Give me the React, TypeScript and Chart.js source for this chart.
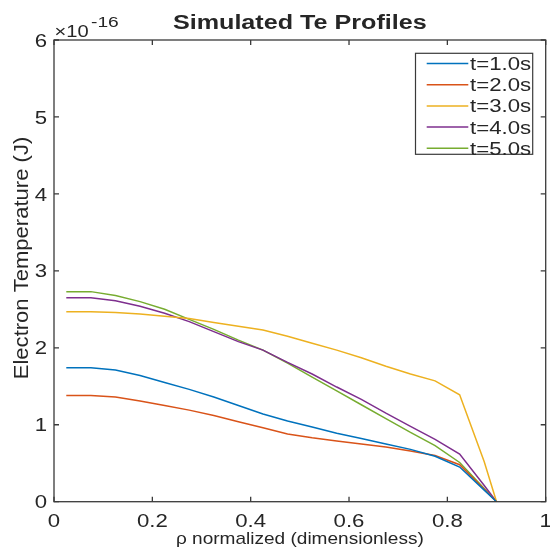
import React, { useEffect, useRef } from "react";
import { Chart, registerables } from "chart.js";

Chart.register(...registerables);

// ---- data (Te in units of 1e-16 J) ----
const rho = [0.025, 0.075, 0.125, 0.175, 0.225, 0.275, 0.325, 0.375, 0.425, 0.475, 0.525, 0.575, 0.625, 0.675, 0.725, 0.775, 0.825, 0.875, 0.9];
const teT1 = [1.74, 1.74, 1.71, 1.64, 1.55, 1.46, 1.36, 1.25, 1.14, 1.05, 0.97, 0.89, 0.82, 0.75, 0.68, 0.59, 0.45, 0.15, 0];
const teT2 = [1.38, 1.38, 1.36, 1.31, 1.25, 1.19, 1.12, 1.04, 0.96, 0.88, 0.83, 0.79, 0.75, 0.71, 0.66, 0.6, 0.48, 0.16, 0];
const teT3 = [2.47, 2.47, 2.46, 2.44, 2.41, 2.38, 2.33, 2.28, 2.23, 2.15, 2.06, 1.97, 1.87, 1.76, 1.66, 1.57, 1.39, 0.52, 0];
const teT4 = [2.65, 2.65, 2.61, 2.54, 2.45, 2.34, 2.21, 2.08, 1.97, 1.81, 1.66, 1.49, 1.33, 1.15, 0.98, 0.81, 0.62, 0.21, 0];
const teT5 = [2.73, 2.73, 2.68, 2.6, 2.5, 2.37, 2.24, 2.1, 1.97, 1.8, 1.62, 1.44, 1.26, 1.08, 0.9, 0.73, 0.51, 0.17, 0];

const seriesLabels = ["t=1.0s", "t=2.0s", "t=3.0s", "t=4.0s", "t=5.0s"];
const seriesValues = [teT1, teT2, teT3, teT4, teT5];
const seriesColors = ["#0072BD", "#D95319", "#EDB120", "#7E2F8E", "#77AC30"];

const xTicks = [0, 0.2, 0.4, 0.6, 0.8, 1];
const xTickLabels = ["0", "0.2", "0.4", "0.6", "0.8", "1"];
const yTicks = [0, 1, 2, 3, 4, 5, 6];
const yTickLabels = ["0", "1", "2", "3", "4", "5", "6"];
const exponentBase = "×10";
const exponentPower = "-16";

const titleText = "Simulated Te Profiles";
const xTitle = "ρ normalized (dimensionless)";
const yTitle = "Electron Temperature (J)";

const FONT = "'Liberation Sans', Arial, Helvetica, sans-serif";
const TEXT_COLOR = "#262626";
const AXIS_COLOR = "#3a3a3a";

function drawText(
  ctx: CanvasRenderingContext2D,
  text: string,
  x: number,
  y: number,
  font: string,
  sx: number,
  align: CanvasTextAlign,
  rotate = 0
) {
  ctx.save();
  ctx.translate(x, y);
  if (rotate) ctx.rotate(rotate);
  ctx.scale(sx, 1);
  ctx.font = font;
  ctx.fillStyle = TEXT_COLOR;
  ctx.textAlign = align;
  ctx.textBaseline = "alphabetic";
  ctx.fillText(text, 0, 0);
  ctx.restore();
}

const decorPlugin = {
  id: "matlabDecor",
  afterDatasetsDraw(chart: any) {
    const { ctx, chartArea, scales } = chart;
    const { left, right, top, bottom } = chartArea;
    const xs = scales.x;
    const ys = scales.y;
    ctx.save();

    // axes box + inward ticks
    ctx.strokeStyle = AXIS_COLOR;
    ctx.lineWidth = 1.3;
    ctx.strokeRect(left, top, right - left, bottom - top);
    const tl = 5;
    ctx.beginPath();
    xTicks.forEach((v) => {
      const px = xs.getPixelForValue(v);
      ctx.moveTo(px, bottom);
      ctx.lineTo(px, bottom - tl);
      ctx.moveTo(px, top);
      ctx.lineTo(px, top + tl);
    });
    yTicks.forEach((v) => {
      const py = ys.getPixelForValue(v);
      ctx.moveTo(left, py);
      ctx.lineTo(left + tl, py);
      ctx.moveTo(right, py);
      ctx.lineTo(right - tl, py);
    });
    ctx.stroke();

    // tick labels
    const tickFont = `18.5px ${FONT}`;
    xTicks.forEach((v, i) => {
      drawText(ctx, xTickLabels[i], xs.getPixelForValue(v), bottom + 24.8, tickFont, 1.2, "center");
    });
    yTicks.forEach((v, i) => {
      drawText(ctx, yTickLabels[i], left - 7, ys.getPixelForValue(v) + 6.6, tickFont, 1.2, "right");
    });

    // exponent
    drawText(ctx, exponentBase, left + 0.5, 36.5, `16.5px ${FONT}`, 1.22, "left");
    drawText(ctx, exponentPower, left + 37, 27, `15.5px ${FONT}`, 1.24, "left");

    // title
    drawText(ctx, titleText, (left + right) / 2, 28.5, `bold 19.5px ${FONT}`, 1.29, "center");

    // axis titles
    drawText(ctx, xTitle, (left + right) / 2, 543.5, `17px ${FONT}`, 1.12, "center");
    drawText(ctx, yTitle, 27.5, 258, `19.5px ${FONT}`, 1.13, "center", -Math.PI / 2);

    // legend
    const bx0 = 415.5, bx1 = 532.7, by0 = 53.3, by1 = 154.3;
    ctx.fillStyle = "#ffffff";
    ctx.fillRect(bx0, by0, bx1 - bx0, by1 - by0);
    ctx.strokeStyle = AXIS_COLOR;
    ctx.lineWidth = 1.2;
    ctx.strokeRect(bx0, by0, bx1 - bx0, by1 - by0);
    chart.data.datasets.forEach((ds: any, i: number) => {
      const cy = 63.5 + i * 21.2;
      ctx.strokeStyle = ds.borderColor;
      ctx.lineWidth = 1.5;
      ctx.beginPath();
      ctx.moveTo(426.7, cy);
      ctx.lineTo(468.3, cy);
      ctx.stroke();
      drawText(ctx, ds.label, 470, cy + 6.5, tickFont, 1.2, "left");
    });

    ctx.restore();
  },
};

export default function App() {
  const canvasRef = useRef<HTMLCanvasElement | null>(null);

  useEffect(() => {
    const canvas = canvasRef.current;
    if (!canvas) return;
    const chart = new Chart(canvas, {
      type: "line",
      data: {
        datasets: seriesLabels.map((label, i) => ({
          label,
          data: rho.map((x, j) => ({ x, y: seriesValues[i][j] })),
          borderColor: seriesColors[i],
          backgroundColor: seriesColors[i],
          borderWidth: 1.5,
          pointRadius: 0,
          tension: 0,
          fill: false,
        })),
      },
      options: {
        responsive: false,
        animation: false,
        events: [],
        layout: { padding: { left: 54, right: 4.3, top: 40, bottom: 51.3 } },
        plugins: {
          legend: { display: false },
          title: { display: false },
          tooltip: { enabled: false },
        },
        scales: {
          x: { type: "linear", min: 0, max: 1, display: false },
          y: { type: "linear", min: 0, max: 6, display: false },
        },
      },
      plugins: [decorPlugin],
    });
    return () => chart.destroy();
  }, []);

  return (
    <div style={{ position: "absolute", left: 0, top: 0, width: 550, height: 553, background: "#ffffff" }}>
      <canvas ref={canvasRef} width={550} height={553} style={{ width: 550, height: 553, display: "block" }} />
    </div>
  );
}
